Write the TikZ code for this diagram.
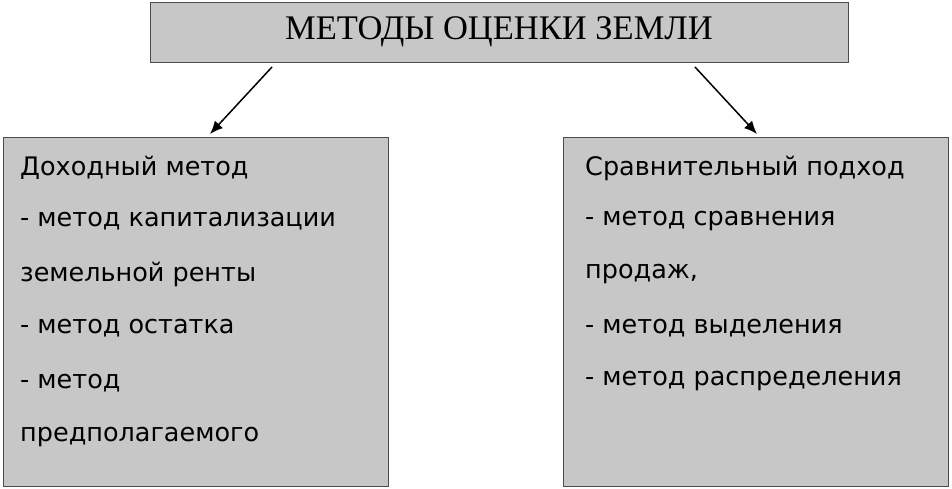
\documentclass[tikz,border=0pt]{standalone}
\usepackage{fontspec}
\setmainfont{Liberation Serif}
\newfontfamily\bodyf{DejaVu Sans}
\usetikzlibrary{arrows.meta}
\begin{document}
\begin{tikzpicture}[x=1pt,y=-1pt,
 box/.style={draw=black!70,line width=1pt,fill=black!22},
 txt/.style={anchor=west,font=\bodyf\fontsize{25.5}{30}\selectfont,inner sep=0},
 arr/.style={-{Latex[length=13pt,width=11pt]},line width=1.5pt}]
\useasboundingbox (0,0) rectangle (952,488);
\node[box,minimum width=698,minimum height=60,inner sep=0,font=\fontsize{34.5}{38}\selectfont] (t) at (499,32) {МЕТОДЫ ОЦЕНКИ ЗЕМЛИ};
\node[box,minimum width=385,minimum height=349,inner sep=0] (l) at (195.5,311.5) {};
\node[box,minimum width=385,minimum height=349,inner sep=0] (r) at (755.5,311.5) {};
\coordinate (a1) at (272,67); \coordinate (b1) at (210,134);
\coordinate (a2) at (695,67); \coordinate (b2) at (757,134);
\draw[arr] (a1) -- (b1);
\draw[arr] (a2) -- (b2);
\node[txt] (l1) at (20,168) {Доходный метод};
\node[txt] (l2) at (20,221) {- метод капитализации};
\node[txt] (l3) at (20,274) {земельной ренты};
\node[txt] (l4) at (20,328) {- метод остатка};
\node[txt] (l5) at (20,383) {- метод};
\node[txt] (l6) at (20,437) {предполагаемого};
\node[txt] (r1) at (585,168) {Сравнительный подход};
\node[txt] (r2) at (585,221) {- метод сравнения};
\node[txt] (r3) at (585,274) {продаж,};
\node[txt] (r4) at (585,328) {- метод выделения};
\node[txt] (r5) at (585,381) {- метод распределения};
\end{tikzpicture}
\end{document}
